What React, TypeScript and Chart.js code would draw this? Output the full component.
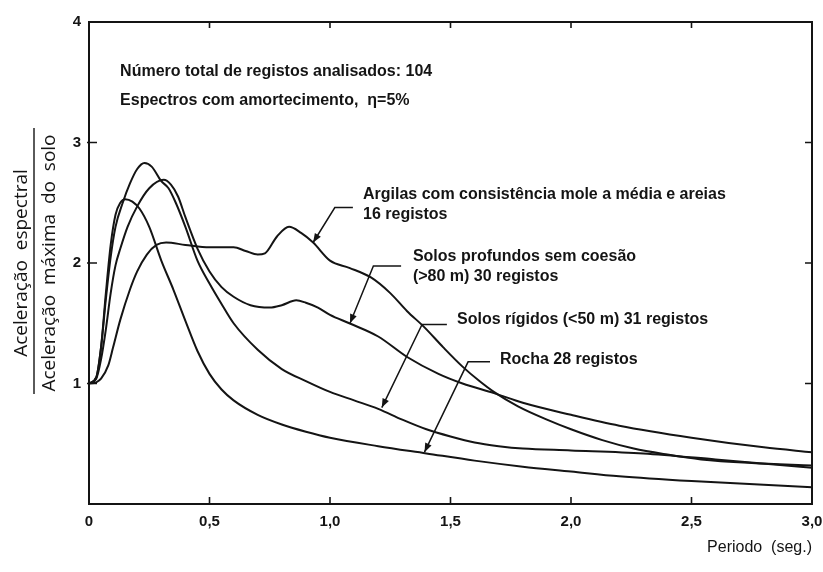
import React, { useEffect, useRef } from 'react';
import { Chart, registerables } from 'chart.js';

Chart.register(...registerables);

// ---- data (period in s, normalised spectral acceleration) ----
const periodRocha = [0, 0.03, 0.05, 0.07, 0.09, 0.11, 0.13, 0.15, 0.18, 0.21, 0.25, 0.3, 0.35, 0.4, 0.45, 0.5, 0.55, 0.6, 0.7, 0.8, 0.9, 1.0, 1.2, 1.4, 1.6, 1.8, 2.0, 2.2, 2.5, 2.8, 3.0];
const accRocha = [1.0, 1.05, 1.3, 1.75, 2.15, 2.4, 2.5, 2.53, 2.51, 2.45, 2.3, 2.02, 1.78, 1.52, 1.27, 1.08, 0.95, 0.86, 0.74, 0.66, 0.6, 0.55, 0.48, 0.42, 0.36, 0.31, 0.27, 0.23, 0.19, 0.16, 0.14];

const periodRigidos = [0, 0.03, 0.05, 0.07, 0.09, 0.11, 0.14, 0.17, 0.2, 0.23, 0.26, 0.3, 0.33, 0.36, 0.4, 0.45, 0.5, 0.55, 0.6, 0.7, 0.8, 0.9, 1.0, 1.1, 1.2, 1.3, 1.4, 1.5, 1.6, 1.7, 1.8, 2.0, 2.3, 2.6, 3.0];
const accRigidos = [1.0, 1.05, 1.3, 1.7, 2.05, 2.3, 2.5, 2.66, 2.78, 2.83, 2.8, 2.68, 2.62, 2.5, 2.3, 2.02, 1.83, 1.66, 1.5, 1.28, 1.12, 1.02, 0.93, 0.86, 0.79, 0.7, 0.62, 0.56, 0.51, 0.48, 0.46, 0.445, 0.42, 0.37, 0.3];

const periodProfundos = [0, 0.03, 0.05, 0.07, 0.09, 0.11, 0.13, 0.16, 0.2, 0.25, 0.31, 0.34, 0.37, 0.4, 0.45, 0.5, 0.55, 0.6, 0.67, 0.75, 0.8, 0.86, 0.9, 0.95, 1.0, 1.08, 1.2, 1.32, 1.45, 1.55, 1.68, 1.8, 2.0, 2.2, 2.5, 2.8, 3.0];
const accProfundos = [1.0, 1.04, 1.2, 1.45, 1.75, 1.98, 2.12, 2.3, 2.47, 2.62, 2.69, 2.65, 2.55, 2.38, 2.12, 1.93, 1.8, 1.72, 1.65, 1.63, 1.65, 1.69, 1.67, 1.63, 1.57, 1.5, 1.39, 1.22, 1.08, 1.0, 0.92, 0.84, 0.74, 0.65, 0.55, 0.47, 0.43];

const periodArgilas = [0, 0.03, 0.05, 0.08, 0.1, 0.13, 0.17, 0.2, 0.24, 0.28, 0.32, 0.4, 0.5, 0.6, 0.65, 0.7, 0.73, 0.78, 0.83, 0.88, 0.93, 1.0, 1.08, 1.17, 1.25, 1.32, 1.39, 1.47, 1.55, 1.62, 1.68, 1.78, 1.9, 2.0, 2.13, 2.26, 2.4, 2.54, 2.75, 3.0];
const accArgilas = [1.0, 1.01, 1.04, 1.15, 1.3, 1.53, 1.78, 1.93, 2.07, 2.15, 2.17, 2.15, 2.13, 2.13, 2.1, 2.07, 2.08, 2.22, 2.3, 2.25, 2.17, 2.02, 1.96, 1.88, 1.75, 1.6, 1.47, 1.3, 1.14, 1.02, 0.93, 0.81, 0.7, 0.62, 0.53, 0.46, 0.41, 0.37, 0.34, 0.32];

const seriesNames = ['Rocha 28 registos', 'Solos rígidos (<50 m) 31 registos', 'Solos profundos sem coesão (>80 m) 30 registos', 'Argilas com consistência mole a média e areias 16 registos'];

const xTickValues = [0, 0.5, 1.0, 1.5, 2.0, 2.5, 3.0];
const xTickLabels = ['0', '0,5', '1,0', '1,5', '2,0', '2,5', '3,0'];
const yTickValues = [1, 2, 3, 4];
const yTickLabels = ['1', '2', '3', '4'];

const xTitle = 'Periodo  (seg.)';
const yTitleTop = 'Aceleração  espectral';
const yTitleBottom = 'Aceleração  máxima  do  solo';

// text notes: [text, x (s), y (value)]
const noteTexts: [string, number, number][] = [
  ['Número total de registos analisados: 104', 0.129, 3.585],
  ['Espectros com amortecimento,  η=5%', 0.129, 3.344],
  ['Argilas com consistência mole a média e areias', 1.137, 2.564],
  ['16 registos', 1.137, 2.398],
  ['Solos profundos sem coesão', 1.344, 2.05],
  ['(>80 m) 30 registos', 1.344, 1.884],
  ['Solos rígidos (<50 m) 31 registos', 1.527, 1.527],
  ['Rocha 28 registos', 1.705, 1.2],
];

// leader lines: from the label to the arrow tip on the curve
const leaders: [number, number][][] = [
  [[1.095, 2.46], [1.02, 2.46], [0.93, 2.17]],
  [[1.295, 1.975], [1.18, 1.975], [1.083, 1.5]],
  [[1.485, 1.49], [1.382, 1.49], [1.215, 0.8]],
  [[1.664, 1.18], [1.573, 1.18], [1.392, 0.43]],
];

const INK = '#141414';

const toPoints = (xs: number[], ys: number[]) => xs.map((x, i) => ({ x, y: ys[i] }));

const framePlugin = {
  id: 'frameAndNotes',
  afterDatasetsDraw(chart: any) {
    const { ctx, chartArea: a, scales } = chart;
    const xs = scales.x;
    const ys = scales.y;
    ctx.save();
    ctx.strokeStyle = INK;
    ctx.lineWidth = 2;
    ctx.strokeRect(a.left, a.top, a.right - a.left, a.bottom - a.top);
    ctx.lineWidth = 1.6;
    ctx.beginPath();
    for (const v of xTickValues.slice(1, -1)) {
      const px = xs.getPixelForValue(v);
      ctx.moveTo(px, a.bottom);
      ctx.lineTo(px, a.bottom - 7);
      ctx.moveTo(px, a.top);
      ctx.lineTo(px, a.top + 6);
    }
    for (const v of yTickValues.slice(0, -1)) {
      const py = ys.getPixelForValue(v);
      ctx.moveTo(a.left - 2, py);
      ctx.lineTo(a.left + 8, py);
      ctx.moveTo(a.right, py);
      ctx.lineTo(a.right - 7, py);
    }
    ctx.stroke();

    // fraction bar of the y title
    ctx.lineWidth = 1.4;
    ctx.beginPath();
    ctx.moveTo(34, 128);
    ctx.lineTo(34, 394);
    ctx.stroke();

    // leaders with arrow heads
    ctx.lineWidth = 1.5;
    ctx.fillStyle = INK;
    for (const pts of leaders) {
      const p = pts.map(([x, y]) => [xs.getPixelForValue(x), ys.getPixelForValue(y)]);
      ctx.beginPath();
      ctx.moveTo(p[0][0], p[0][1]);
      for (let i = 1; i < p.length; i++) ctx.lineTo(p[i][0], p[i][1]);
      ctx.stroke();
      const [tx, ty] = p[p.length - 1];
      const [fx, fy] = p[p.length - 2];
      const ang = Math.atan2(ty - fy, tx - fx);
      const L = 9, W = 3.5;
      ctx.beginPath();
      ctx.moveTo(tx, ty);
      ctx.lineTo(tx - L * Math.cos(ang) + W * Math.sin(ang), ty - L * Math.sin(ang) - W * Math.cos(ang));
      ctx.lineTo(tx - L * Math.cos(ang) - W * Math.sin(ang), ty - L * Math.sin(ang) + W * Math.cos(ang));
      ctx.closePath();
      ctx.fill();
    }

    // notes
    ctx.font = 'bold 16px "Liberation Sans", Arial, sans-serif';
    ctx.textAlign = 'left';
    ctx.textBaseline = 'middle';
    for (const [t, x, y] of noteTexts) {
      ctx.fillText(t, xs.getPixelForValue(x), ys.getPixelForValue(y));
    }
    ctx.restore();
  },
};

export default function App() {
  const ref = useRef<HTMLCanvasElement>(null);
  useEffect(() => {
    document.body.style.margin = '0';
    const curve = (label: string, xs: number[], ys: number[]) => ({
      label,
      data: toPoints(xs, ys),
      borderColor: INK,
      borderWidth: 2,
      pointRadius: 0,
      fill: false,
      cubicInterpolationMode: 'monotone' as const,
    });
    const chart = new Chart(ref.current!, {
      type: 'line',
      data: {
        datasets: [
          curve(seriesNames[0], periodRocha, accRocha),
          curve(seriesNames[1], periodRigidos, accRigidos),
          curve(seriesNames[2], periodProfundos, accProfundos),
          curve(seriesNames[3], periodArgilas, accArgilas),
        ],
      },
      options: {
        responsive: false,
        animation: false,
        devicePixelRatio: 1,
        layout: { autoPadding: false, padding: { top: 22, right: 11, left: 0, bottom: 0 } },
        plugins: { legend: { display: false }, tooltip: { enabled: false } },
        scales: {
          x: {
            type: 'linear',
            min: 0,
            max: 3,
            afterBuildTicks: (s: any) => { s.ticks = xTickValues.map((value) => ({ value })); },
            afterFit: (s: any) => { s.height = 68; s.paddingLeft = 0; s.paddingRight = 0; },
            ticks: {
              callback: (v: any) => xTickLabels[xTickValues.indexOf(Number(v))] ?? '',
              font: { family: '"Liberation Sans", Arial, sans-serif', weight: 'bold', size: 15 },
              color: INK,
              padding: 9,
              maxRotation: 0,
              autoSkip: false,
            },
            grid: { display: false, drawTicks: false },
            border: { display: false },
            title: {
              display: true,
              text: xTitle,
              align: 'end',
              color: INK,
              font: { family: '"Liberation Sans", Arial, sans-serif', size: 16 },
              padding: { top: 15, bottom: 15 },
            },
          },
          y: {
            type: 'linear',
            min: 0,
            max: 4,
            afterBuildTicks: (s: any) => { s.ticks = yTickValues.map((value) => ({ value })); },
            afterFit: (s: any) => { s.width = 89; s.paddingTop = 0; s.paddingBottom = 0; },
            ticks: {
              callback: (v: any) => yTickLabels[yTickValues.indexOf(Number(v))] ?? '',
              font: { family: '"Liberation Sans", Arial, sans-serif', weight: 'bold', size: 15 },
              color: INK,
              padding: 8,
            },
            grid: { display: false, drawTicks: false },
            border: { display: false },
            title: {
              display: true,
              text: [yTitleTop, yTitleBottom],
              color: INK,
              font: { family: '"Open Sans", sans-serif', size: 19, lineHeight: 1.47 },
              padding: { top: 8, bottom: 8 },
            },
          },
        },
      },
      plugins: [framePlugin],
    } as any);
    return () => chart.destroy();
  }, []);
  return (
    <div style={{ position: 'absolute', left: 0, top: 0, width: 823, height: 572, background: '#fff' }}>
      <canvas ref={ref} width={823} height={572} style={{ display: 'block' }} />
    </div>
  );
}
